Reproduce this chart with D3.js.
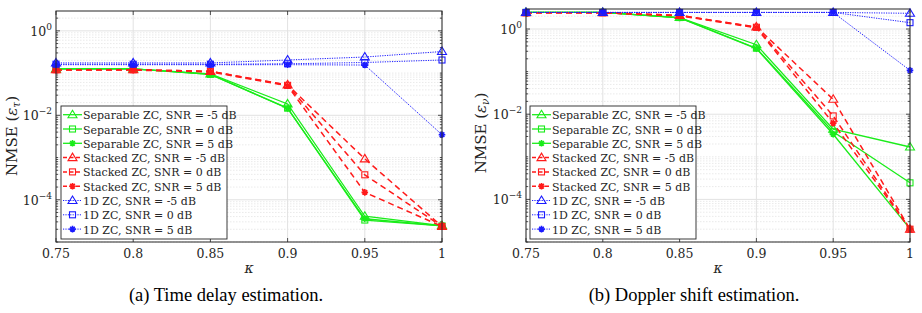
<!DOCTYPE html>
<html>
<head>
<meta charset="utf-8">
<script src="https://cdn.jsdelivr.net/npm/d3@7"></script>
<style>
  body { margin: 0; background: #fff; }
</style>
</head>
<body>
<div id="chart"></div>
<script>
// --- DATA ---
const kappa = [0.75, 0.8, 0.85, 0.9, 0.95, 1];
const legendLabels = [
  "Separable ZC, SNR = -5 dB", "Separable ZC, SNR = 0 dB", "Separable ZC, SNR = 5 dB",
  "Stacked ZC, SNR = -5 dB", "Stacked ZC, SNR = 0 dB", "Stacked ZC, SNR = 5 dB",
  "1D ZC, SNR = -5 dB", "1D ZC, SNR = 0 dB", "1D ZC, SNR = 5 dB"
];
const xTickLabels = ["0.75", "0.8", "0.85", "0.9", "0.95", "1"];
const yTickExp = [0, -2, -4];

// (a) time delay NMSE
const delaySepM5 = [0.126, 0.126, 0.0955, 0.0186, 4.07e-5, 2.45e-5];
const delaySep0 = [0.126, 0.126, 0.0933, 0.0148, 3.31e-5, 2.40e-5];
const delaySep5 = [0.126, 0.126, 0.0933, 0.0145, 3.55e-5, 2.40e-5];
const delayStkM5 = [0.120, 0.120, 0.110, 0.0525, 9.3e-4, 2.34e-5];
const delayStk0 = [0.120, 0.120, 0.110, 0.0513, 3.9e-4, 2.34e-5];
const delayStk5 = [0.1175, 0.1175, 0.107, 0.050, 1.5e-4, 2.34e-5];
const delayOneM5 = [0.174, 0.174, 0.174, 0.204, 0.240, 0.324];
const delayOne0 = [0.162, 0.162, 0.162, 0.166, 0.178, 0.204];
const delayOne5 = [0.158, 0.158, 0.158, 0.158, 0.155, 0.00347];

// (b) Doppler shift NMSE
const dopSepM5 = [2.45, 2.45, 1.86, 0.427, 0.00447, 0.0017];
const dopSep0 = [2.45, 2.45, 1.86, 0.355, 0.00389, 2.45e-4];
const dopSep5 = [2.45, 2.45, 1.82, 0.347, 0.00339, 2.04e-5];
const dopStkM5 = [2.40, 2.40, 2.09, 1.12, 0.0224, 2.0e-5];
const dopStk0 = [2.40, 2.40, 2.09, 1.10, 0.00912, 2.0e-5];
const dopStk5 = [2.40, 2.40, 2.04, 1.07, 0.00617, 2.0e-5];
const dopOneM5 = [2.45, 2.45, 2.45, 2.45, 2.45, 2.34];
const dopOne0 = [2.45, 2.45, 2.45, 2.45, 2.45, 1.41];
const dopOne5 = [2.45, 2.45, 2.45, 2.45, 2.45, 0.107];

// series styles
const GREEN = "#1aec1a", RED = "#ff1a1a", BLUE = "#1a1aff";
const styles = [
  { color: GREEN, dash: null, width: 1.3, marker: "tri" },
  { color: GREEN, dash: null, width: 1.3, marker: "sq" },
  { color: GREEN, dash: null, width: 1.3, marker: "ast" },
  { color: RED, dash: "6,4", width: 1.5, marker: "tri" },
  { color: RED, dash: "6,4", width: 1.5, marker: "sq" },
  { color: RED, dash: "6,4", width: 1.5, marker: "ast" },
  { color: BLUE, dash: "1.2,1.2", width: 1, marker: "tri" },
  { color: BLUE, dash: "1.2,1.2", width: 1, marker: "sq" },
  { color: BLUE, dash: "1.2,1.2", width: 1, marker: "ast" }
];

const SERIF = "'DejaVu Serif', serif";
const TIMES = "'Liberation Serif', 'DejaVu Serif', serif";

const W = 922, H = 313;
const svg = d3.select("#chart").append("svg").attr("width", W).attr("height", H)
  .attr("font-family", SERIF);

function drawMarker(g, type, x, y, color) {
  if (type === "tri") {
    g.append("path")
      .attr("d", `M${x},${y - 4.5}L${x + 4.5},${y + 3}L${x - 4.5},${y + 3}Z`)
      .attr("fill", "none").attr("stroke", color).attr("stroke-width", 1.1);
  } else if (type === "sq") {
    g.append("rect").attr("x", x - 3).attr("y", y - 3).attr("width", 6).attr("height", 6)
      .attr("fill", "none").attr("stroke", color).attr("stroke-width", 1.1);
  } else {
    const r = 3.3, d = r * 0.707;
    g.append("path")
      .attr("d", `M${x - r},${y}L${x + r},${y}M${x},${y - r}L${x},${y + r}M${x - d},${y - d}L${x + d},${y + d}M${x - d},${y + d}L${x + d},${y - d}`)
      .attr("stroke", color).attr("stroke-width", 1.6);
  }
}

function drawPanel(cfg) {
  const g = svg.append("g");
  const x = d3.scaleLinear().domain([0.75, 1]).range([cfg.left, cfg.right]);
  const y = d3.scaleLog().domain([1e-5, Math.pow(10, 0.47)]).range([cfg.bottom, cfg.top]);

  // grid
  const minor = [];
  for (let e = -5; e <= 0; e++) for (let m = 1; m <= 9; m++) {
    const v = m * Math.pow(10, e);
    if (v < 1e-5 || v > Math.pow(10, 0.47)) continue;
    if (m === 1 && e % 2 === 0) continue;
    minor.push(v);
  }
  g.selectAll(".ming").data(minor).enter().append("line")
    .attr("x1", cfg.left).attr("x2", cfg.right)
    .attr("y1", d => y(d)).attr("y2", d => y(d))
    .attr("stroke", "#e4e4e4").attr("stroke-width", 0.8).attr("stroke-dasharray", "1.5,1.5");
  const major = yTickExp.map(e => Math.pow(10, e));
  g.selectAll(".majg").data(major).enter().append("line")
    .attr("x1", cfg.left).attr("x2", cfg.right)
    .attr("y1", d => y(d)).attr("y2", d => y(d))
    .attr("stroke", "#e2e2e2").attr("stroke-width", 1);
  g.selectAll(".vg").data(kappa).enter().append("line")
    .attr("x1", d => x(d)).attr("x2", d => x(d))
    .attr("y1", cfg.top).attr("y2", cfg.bottom)
    .attr("stroke", "#e2e2e2").attr("stroke-width", 1);

  // ticks (inward)
  const tk = g.append("g").attr("stroke", "#262626").attr("stroke-width", 0.8);
  kappa.forEach(k => {
    tk.append("line").attr("x1", x(k)).attr("x2", x(k)).attr("y1", cfg.bottom).attr("y2", cfg.bottom - 4);
    tk.append("line").attr("x1", x(k)).attr("x2", x(k)).attr("y1", cfg.top).attr("y2", cfg.top + 4);
  });
  major.forEach(v => {
    tk.append("line").attr("x1", cfg.left).attr("x2", cfg.left + 4).attr("y1", y(v)).attr("y2", y(v));
    tk.append("line").attr("x1", cfg.right).attr("x2", cfg.right - 4).attr("y1", y(v)).attr("y2", y(v));
  });
  minor.forEach(v => {
    tk.append("line").attr("x1", cfg.left).attr("x2", cfg.left + 2.2).attr("y1", y(v)).attr("y2", y(v));
    tk.append("line").attr("x1", cfg.right).attr("x2", cfg.right - 2.2).attr("y1", y(v)).attr("y2", y(v));
  });

  // tick labels
  kappa.forEach((k, i) => {
    g.append("text").attr("x", x(k)).attr("y", cfg.bottom + 16)
      .attr("text-anchor", "middle").attr("font-size", 12.5).attr("fill", "#262626")
      .text(xTickLabels[i]);
  });
  yTickExp.forEach(e => {
    const t = g.append("text").attr("x", cfg.left - 4).attr("y", y(Math.pow(10, e)) + 5)
      .attr("text-anchor", "end").attr("font-size", 12.5).attr("fill", "#262626");
    t.append("tspan").text("10");
    t.append("tspan").attr("dy", -6).attr("font-size", 9).text(e === 0 ? "0" : "\u2212" + (-e));
  });

  // axis labels
  g.append("text").attr("x", (cfg.left + cfg.right) / 2).attr("y", cfg.bottom + 31)
    .attr("text-anchor", "middle").attr("font-size", 14).attr("font-style", "italic")
    .attr("fill", "#262626").text("\u03ba");
  const yl = g.append("text")
    .attr("transform", `translate(${cfg.ylabelX},${cfg.ylabelY}) rotate(-90)`)
    .attr("text-anchor", "middle").attr("font-size", 15).attr("fill", "#262626");
  yl.append("tspan").text("NMSE (");
  yl.append("tspan").attr("font-style", "italic").text("\u03b5");
  yl.append("tspan").attr("font-style", "italic").attr("font-size", 10.5).attr("dy", 3).text(cfg.sub);
  yl.append("tspan").attr("dy", -3).text(")");

  // series
  const line = d3.line().x((d, i) => x(kappa[i])).y(d => y(d));
  const sg = g.append("g");
  cfg.series.forEach((vals, si) => {
    const st = styles[si];
    sg.append("path").datum(vals).attr("d", line)
      .attr("fill", "none").attr("stroke", st.color).attr("stroke-width", st.width)
      .attr("stroke-dasharray", st.dash);
    vals.forEach((v, i) => drawMarker(sg, st.marker, x(kappa[i]), y(v), st.color));
  });

  // box
  g.append("rect").attr("x", cfg.left).attr("y", cfg.top)
    .attr("width", cfg.right - cfg.left).attr("height", cfg.bottom - cfg.top)
    .attr("fill", "none").attr("stroke", "#262626").attr("stroke-width", 1);

  // legend
  const lg = g.append("g");
  lg.append("rect").attr("x", cfg.legX).attr("y", 106).attr("width", 166).attr("height", 133)
    .attr("fill", "#fff").attr("stroke", "#262626").attr("stroke-width", 0.9);
  legendLabels.forEach((lab, i) => {
    const st = styles[i];
    const yy = 114.7 + i * 14.3;
    lg.append("line").attr("x1", cfg.legX + 2).attr("x2", cfg.legX + 21).attr("y1", yy).attr("y2", yy)
      .attr("stroke", st.color).attr("stroke-width", st.width)
      .attr("stroke-dasharray", st.dash ? (st.dash === "6,4" ? "4,2.5" : st.dash) : null);
    drawMarker(lg, st.marker, cfg.legX + 11.5, yy, st.color);
    lg.append("text").attr("x", cfg.legX + 22).attr("y", yy + 4.5)
      .attr("font-size", 11).attr("fill", "#262626").text(lab);
  });

  // caption
  svg.append("text").attr("x", cfg.capX).attr("y", 301).attr("text-anchor", "middle")
    .attr("font-family", TIMES).attr("font-size", 18.5).attr("fill", "#000").text(cfg.caption);
}

drawPanel({
  id: "a", left: 56, right: 442, top: 11, bottom: 242,
  legX: 61, ylabelX: 17, ylabelY: 136, sub: "\u03c4",
  capX: 226, caption: "(a) Time delay estimation.",
  series: [delaySepM5, delaySep0, delaySep5, delayStkM5, delayStk0, delayStk5, delayOneM5, delayOne0, delayOne5]
});
drawPanel({
  id: "b", left: 526, right: 910, top: 9, bottom: 242,
  legX: 530, ylabelX: 486, ylabelY: 133, sub: "\u03bd",
  capX: 694, caption: "(b) Doppler shift estimation.",
  series: [dopSepM5, dopSep0, dopSep5, dopStkM5, dopStk0, dopStk5, dopOneM5, dopOne0, dopOne5]
});
</script>
</body>
</html>
